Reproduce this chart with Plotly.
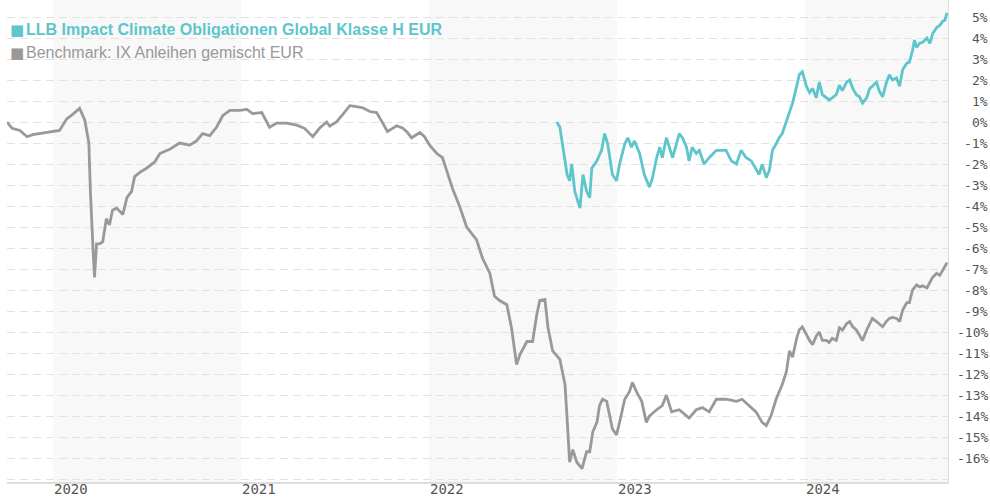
import plotly.graph_objects as go

# ---------------- data ----------------
bench_dates = [
    "2019-10-04", "2019-10-14", "2019-10-29", "2019-11-12", "2019-11-23", "2019-12-07", "2019-12-26",
    "2020-01-14", "2020-01-28", "2020-02-08", "2020-02-22", "2020-03-03", "2020-03-11", "2020-03-14",
    "2020-03-20", "2020-03-22", "2020-03-26", "2020-04-01", "2020-04-07", "2020-04-14", "2020-04-20",
    "2020-04-26", "2020-05-04", "2020-05-16", "2020-05-24", "2020-06-02", "2020-06-08", "2020-06-18",
    "2020-07-01", "2020-07-17", "2020-07-27", "2020-08-15", "2020-09-03", "2020-09-23", "2020-10-06",
    "2020-10-18", "2020-11-01", "2020-11-14", "2020-11-26", "2020-12-10", "2020-12-29", "2021-01-12",
    "2021-01-23", "2021-02-10", "2021-02-25", "2021-03-11", "2021-03-30", "2021-04-19", "2021-05-04",
    "2021-05-20", "2021-06-02", "2021-06-16", "2021-06-22", "2021-07-05", "2021-07-17", "2021-07-31",
    "2021-08-13", "2021-08-25", "2021-09-08", "2021-09-21", "2021-10-03", "2021-10-12", "2021-10-22",
    "2021-10-30", "2021-11-11", "2021-11-20", "2021-11-28", "2021-12-14", "2021-12-23", "2022-01-02",
    "2022-01-16", "2022-01-27", "2022-02-04", "2022-02-16", "2022-03-01", "2022-03-15", "2022-04-03",
    "2022-04-15", "2022-04-29", "2022-05-08", "2022-05-18", "2022-06-01", "2022-06-10", "2022-06-20",
    "2022-06-26", "2022-07-10", "2022-07-21", "2022-07-29", "2022-08-04", "2022-08-14", "2022-08-20",
    "2022-08-29", "2022-09-12", "2022-09-22", "2022-09-26", "2022-10-01", "2022-10-07", "2022-10-15",
    "2022-10-25", "2022-11-03", "2022-11-09", "2022-11-15", "2022-11-23", "2022-11-28", "2022-12-04",
    "2022-12-12", "2022-12-23", "2022-12-31", "2023-01-06", "2023-01-16", "2023-01-25", "2023-01-31",
    "2023-02-08", "2023-02-18", "2023-02-27", "2023-03-05", "2023-03-19", "2023-03-30", "2023-04-07",
    "2023-04-17", "2023-05-02", "2023-05-21", "2023-06-04", "2023-06-16", "2023-06-29", "2023-07-13",
    "2023-08-01", "2023-08-21", "2023-09-01", "2023-09-15", "2023-09-28", "2023-10-10", "2023-10-18",
    "2023-10-27", "2023-11-06", "2023-11-18", "2023-11-26", "2023-12-02", "2023-12-08", "2023-12-16",
    "2023-12-21", "2023-12-27", "2024-01-04", "2024-01-10", "2024-01-16", "2024-01-23", "2024-01-29",
    "2024-02-04", "2024-02-12", "2024-02-17", "2024-02-23", "2024-03-02", "2024-03-08", "2024-03-14",
    "2024-03-22", "2024-03-28", "2024-04-03", "2024-04-10", "2024-04-16", "2024-04-22", "2024-04-30",
    "2024-05-06", "2024-05-11", "2024-05-19", "2024-05-25", "2024-05-31", "2024-06-07", "2024-06-13",
    "2024-06-19", "2024-06-27", "2024-07-03", "2024-07-09", "2024-07-17", "2024-07-22", "2024-07-28",
    "2024-08-05", "2024-08-11", "2024-08-17", "2024-08-25", "2024-08-31", "2024-09-05", "2024-09-13",
    "2024-09-19", "2024-09-25", "2024-10-03",
]
bench_values = [
    0.0, -0.3, -0.4, -0.7, -0.6, -0.55, -0.5,
    -0.4, 0.15, 0.35, 0.65, 0.1, -1.0, -3.3,
    -6.5, -7.4, -5.8, -5.8, -5.7, -4.6, -4.9,
    -4.2, -4.1, -4.4, -3.6, -3.3, -2.6, -2.4,
    -2.2, -1.9, -1.5, -1.3, -1.0, -1.1, -0.9,
    -0.55, -0.65, -0.25, 0.3, 0.55, 0.55, 0.6,
    0.4, 0.45, -0.25, -0.05, -0.05, -0.15, -0.3,
    -0.7, -0.3, 0.0, -0.2, 0.0, 0.35, 0.78,
    0.73, 0.68, 0.5, 0.45, -0.05, -0.45, -0.3,
    -0.18, -0.3, -0.5, -0.75, -0.5, -0.7, -1.1,
    -1.5, -1.7, -2.3, -3.2, -4.0, -5.0, -5.6,
    -6.5, -7.2, -8.3, -8.5, -8.7, -9.8, -11.55,
    -11.1, -10.45, -10.45, -9.2, -8.5, -8.45, -9.8,
    -10.9, -11.3, -12.5, -14.1, -16.2, -15.6, -16.2,
    -16.5, -15.7, -15.7, -14.75, -14.3, -13.5, -13.2,
    -13.3, -14.6, -14.9, -14.3, -13.2, -12.85, -12.4,
    -12.85, -13.3, -14.3, -14.0, -13.7, -13.5, -13.0,
    -13.8, -13.7, -14.1, -13.7, -13.6, -13.8, -13.2,
    -13.2, -13.3, -13.2, -13.5, -13.8, -14.3, -14.45,
    -14.0, -13.2, -12.5, -11.9, -10.9, -11.2, -10.3,
    -9.9, -9.75, -10.15, -10.4, -10.6, -10.2, -10.0,
    -10.4, -10.4, -10.5, -10.3, -10.4, -9.8, -9.9,
    -9.6, -9.5, -9.75, -9.9, -10.15, -10.4, -9.9,
    -9.6, -9.35, -9.5, -9.65, -9.75, -9.5, -9.35,
    -9.3, -9.35, -9.5, -8.95, -8.6, -8.6, -8.0,
    -7.75, -7.85, -7.8, -7.9, -7.65, -7.4, -7.2,
    -7.3, -7.05, -6.7,
]

fund_dates = [
    "2022-09-06", "2022-09-12", "2022-09-18", "2022-09-26", "2022-10-01", "2022-10-05", "2022-10-11",
    "2022-10-21", "2022-10-27", "2022-11-03", "2022-11-09", "2022-11-13", "2022-11-23", "2022-12-02",
    "2022-12-08", "2022-12-14", "2022-12-23", "2022-12-31", "2023-01-06", "2023-01-16", "2023-01-22",
    "2023-01-29", "2023-02-04", "2023-02-14", "2023-02-23", "2023-03-05", "2023-03-11", "2023-03-19",
    "2023-03-25", "2023-03-30", "2023-04-07", "2023-04-13", "2023-04-19", "2023-05-02", "2023-05-08",
    "2023-05-16", "2023-05-21", "2023-05-27", "2023-06-04", "2023-06-10", "2023-06-19", "2023-06-29",
    "2023-07-13", "2023-07-22", "2023-08-01", "2023-08-11", "2023-08-21", "2023-08-30", "2023-09-09",
    "2023-09-19", "2023-09-28", "2023-10-04", "2023-10-10", "2023-10-18", "2023-10-24", "2023-10-30",
    "2023-11-06", "2023-11-12", "2023-11-18", "2023-11-26", "2023-12-02", "2023-12-08", "2023-12-16",
    "2023-12-21", "2023-12-27", "2024-01-04", "2024-01-10", "2024-01-16", "2024-01-23", "2024-01-29",
    "2024-02-04", "2024-02-12", "2024-02-17", "2024-02-23", "2024-03-02", "2024-03-08", "2024-03-14",
    "2024-03-22", "2024-03-28", "2024-04-03", "2024-04-10", "2024-04-16", "2024-04-22", "2024-04-30",
    "2024-05-06", "2024-05-11", "2024-05-19", "2024-05-25", "2024-05-31", "2024-06-07", "2024-06-13",
    "2024-06-19", "2024-06-27", "2024-07-03", "2024-07-09", "2024-07-17", "2024-07-22", "2024-07-28",
    "2024-08-01", "2024-08-05", "2024-08-11", "2024-08-17", "2024-08-25", "2024-08-31", "2024-09-05",
    "2024-09-13", "2024-09-19", "2024-09-25", "2024-09-29", "2024-10-03",
]
fund_values = [
    0.0, -0.25, -1.2, -2.5, -2.8, -2.0, -3.3,
    -4.1, -2.5, -3.3, -3.6, -2.2, -1.85, -1.35,
    -0.55, -1.05, -2.5, -2.8, -2.0, -1.05, -0.75,
    -1.2, -0.9, -1.5, -2.5, -3.1, -2.65, -1.7,
    -1.2, -1.7, -0.75, -1.2, -1.7, -0.55, -0.75,
    -1.2, -1.85, -1.2, -1.5, -1.35, -2.0, -1.7,
    -1.35, -1.35, -1.35, -1.85, -2.0, -1.35, -1.7,
    -1.85, -2.2, -2.5, -2.0, -2.65, -2.3, -1.35,
    -1.05, -0.75, -0.55, 0.0, 0.5, 0.9, 1.7,
    2.25, 2.4, 1.7, 1.4, 1.6, 1.15, 1.9,
    1.3, 1.15, 1.05, 1.15, 1.3, 1.75, 1.5,
    1.9, 2.0, 1.6, 1.3, 1.2, 0.9, 1.15,
    1.6, 1.7, 1.9, 1.45, 1.2, 1.85, 2.25,
    2.0, 2.1, 1.7, 2.5, 2.8, 2.85, 3.4,
    3.9, 3.55, 3.75, 3.8, 4.0, 3.75, 4.2,
    4.5, 4.6, 4.8, 4.85, 5.2,
]

fund_name = "LLB Impact Climate Obligationen Global Klasse H EUR"
bench_name = "Benchmark: IX Anleihen gemischt EUR"

year_labels = ["2020", "2021", "2022", "2023", "2024"]
y_tick_values = list(range(5, -17, -1))
shaded_years = ["2020", "2022", "2024"]

# ---------------- style ----------------
FUND_COLOR = "#5cc6cc"
BENCH_COLOR = "#999999"
GRID_COLOR = "#e2e2e2"
BAND_COLOR = "#f8f8f8"
MONO = "DejaVu Sans Mono"

X_RANGE = ["2019-10-04", "2024-10-05"]
Y_RANGE = [-17.14, 5.81]
W, H = 990, 500
ML, MR, MT, MB = 7, 42, 0, 18
PW = W - ML - MR
PH = H - MT - MB


def px_to_paper_x(px):
    return (px - ML) / PW


def px_to_paper_y(py):
    return 1 - (py - MT) / PH


fig = go.Figure()

fig.add_trace(go.Scatter(
    x=bench_dates, y=bench_values, mode="lines", name=bench_name,
    line=dict(color=BENCH_COLOR, width=2.8), showlegend=False, hoverinfo="skip",
))
fig.add_trace(go.Scatter(
    x=fund_dates, y=fund_values, mode="lines", name=fund_name,
    line=dict(color=FUND_COLOR, width=2.8), showlegend=False, hoverinfo="skip",
))

shapes = []
for yr in shaded_years:
    shapes.append(dict(
        type="rect", xref="x", yref="paper", x0=f"{yr}-01-01", x1=f"{int(yr) + 1}-01-01",
        y0=0, y1=1, fillcolor=BAND_COLOR, line=dict(width=0), layer="below",
    ))

annotations = []
# y tick labels, right-aligned at the right edge
for v in y_tick_values:
    annotations.append(dict(
        xref="paper", yref="y", x=px_to_paper_x(990), y=v, text=f"{v}%",
        xanchor="right", yanchor="middle", showarrow=False,
        font=dict(family=MONO, size=13, color="#555555"),
    ))
# x year labels, left-aligned at year start
for yr in year_labels:
    annotations.append(dict(
        xref="x", yref="paper", x=f"{yr}-01-01", y=px_to_paper_y(489), text=yr,
        xanchor="left", yanchor="middle", showarrow=False, xshift=-1,
        font=dict(family=MONO, size=14, color="#555555"),
    ))
# legend
legend_items = [(fund_name, FUND_COLOR, True, 29), (bench_name, BENCH_COLOR, False, 52)]
for name, color, bold, ypx in legend_items:
    annotations.append(dict(
        xref="paper", yref="paper", x=px_to_paper_x(8), y=px_to_paper_y(ypx + 1), text="■",
        xanchor="left", yanchor="middle", showarrow=False,
        font=dict(family="DejaVu Sans", size=15, color=color),
    ))
    annotations.append(dict(
        xref="paper", yref="paper", x=px_to_paper_x(24), y=px_to_paper_y(ypx), text=name,
        xanchor="left", yanchor="middle", showarrow=False,
        font=dict(family="Liberation Sans", size=16, color=color, weight="bold" if bold else "normal"),
    ))

fig.update_layout(
    width=W, height=H,
    margin=dict(l=ML, r=MR, t=MT, b=MB, pad=0),
    paper_bgcolor="white", plot_bgcolor="white",
    shapes=shapes, annotations=annotations,
    xaxis=dict(
        type="date", range=X_RANGE, showgrid=False, zeroline=False,
        showticklabels=False, ticks="",
        showline=True, linecolor="#dddddd", linewidth=2,
    ),
    yaxis=dict(
        range=Y_RANGE, side="right", tickmode="linear", tick0=0, dtick=1,
        showgrid=True, gridcolor=GRID_COLOR, griddash="8px,5px", gridwidth=1,
        zeroline=False, showticklabels=False, ticks="",
        showline=True, linecolor="#dddddd", linewidth=1,
    ),
    hovermode=False,
)

# remove the default 8px body margin so the 990x500 figure fills the window exactly
fig.write_html(
    "out.html",
    config={"displayModeBar": False, "staticPlot": True},
    post_script="document.body.style.margin='0';document.body.style.overflow='hidden';",
)
